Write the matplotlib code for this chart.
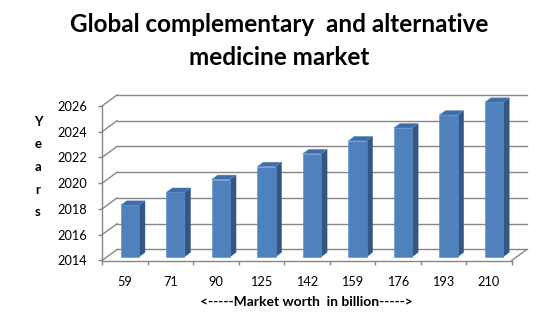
import matplotlib
matplotlib.use('Agg')
import matplotlib.pyplot as plt
from matplotlib.patches import Polygon

# data
market_worth = ['59', '71', '90', '125', '142', '159', '176', '193', '210']
years = [2018, 2019, 2020, 2021, 2022, 2023, 2024, 2025, 2026]
y_ticks = [2014, 2016, 2018, 2020, 2022, 2024, 2026]

FONT = ['Lato', 'DejaVu Sans']
GRID_COL = '#868686'
FRONT_COL = '#4F81BD'
SIDE_COL = '#345683'
TOP_COL = '#3E6CA6'

# 3d depth of the plot box (data units)
DX = 0.33
DY = 0.855
BAR_W = 0.40
BAR_Z0 = 0.34   # front of bar, fraction of depth
BAR_DZ = 0.40   # bar depth, fraction of depth

plt.rcParams['font.family'] = FONT

fig = plt.figure(figsize=(5.56, 3.26), dpi=100)
ax = fig.add_axes([102 / 556, 1 - 260.5 / 326, 409.7 / 556, 154.5 / 326])
ax.set_xlim(0, len(years))
ax.set_ylim(y_ticks[0], y_ticks[-1])
ax.patch.set_alpha(0)

# walls: side wall diagonals and back wall gridlines
n = len(years)
for t in y_ticks:
    ax.plot([0, DX], [t, t + DY], color=GRID_COL, lw=1.0, clip_on=False, zorder=1)
    ax.plot([DX, n + DX], [t + DY, t + DY], color=GRID_COL, lw=1.0, clip_on=False, zorder=1)
# floor right edge
ax.plot([n, n + DX], [y_ticks[0], y_ticks[0] + DY], color=GRID_COL, lw=1.0, clip_on=False, zorder=1)

# bars
base = y_ticks[0]
x0 = [i + 0.5 - BAR_W / 2 + BAR_Z0 * DX for i in range(n)]
heights = [v - base for v in years]
ax.bar(x0, heights, width=BAR_W, bottom=base + BAR_Z0 * DY, align='edge',
       color=FRONT_COL, edgecolor='#5B8BC6', lw=0.4, zorder=3, clip_on=False)
ox, oy = BAR_DZ * DX, BAR_DZ * DY
for xl, v in zip(x0, years):
    xr = xl + BAR_W
    b = base + BAR_Z0 * DY
    top = v + BAR_Z0 * DY
    side = Polygon([(xr, b), (xr + ox, b + oy), (xr + ox, top + oy), (xr, top)],
                   closed=True, fc=SIDE_COL, ec=SIDE_COL, lw=0.3, zorder=2, clip_on=False)
    cap = Polygon([(xl, top), (xl + ox, top + oy), (xr + ox, top + oy), (xr, top)],
                  closed=True, fc=TOP_COL, ec='#5B8BC6', lw=0.4, zorder=4, clip_on=False)
    ax.add_patch(side)
    ax.add_patch(cap)

# axes
for s in ['top', 'right']:
    ax.spines[s].set_visible(False)
for s in ['left', 'bottom']:
    ax.spines[s].set_color(GRID_COL)
    ax.spines[s].set_linewidth(1.0)
    ax.spines[s].set_zorder(5)

ax.set_yticks(y_ticks)
ax.set_yticklabels([str(t) for t in y_ticks])
ax.tick_params(axis='y', length=3, width=1, color=GRID_COL, pad=7.5, labelsize=9.2, labelcolor='black')

ax.set_xticks([i + 0.5 for i in range(n)])
ax.set_xticklabels(market_worth)
ax.set_xticks(range(n + 1), minor=True)
ax.tick_params(axis='x', which='major', length=0, pad=11, labelsize=9.2, labelcolor='black')
ax.tick_params(axis='x', which='minor', length=3, width=1, color=GRID_COL)

# texts
fig.text(0.502, 1 - 41 / 326, 'Global complementary  and alternative\nmedicine market',
         ha='center', va='center', fontsize=17.5, fontweight='bold', linespacing=1.5)
fig.text(38 / 556, 1 - 167 / 326, 'Y\ne\na\nr\ns', ha='center', va='center',
         fontsize=9.5, fontweight='bold', linespacing=2.05)
fig.text(306.7 / 556, 1 - 301.5 / 326, '<-----Market worth  in billion----->',
         ha='center', va='center', fontsize=10, fontweight='bold')

fig.savefig('out.png', dpi=100)
